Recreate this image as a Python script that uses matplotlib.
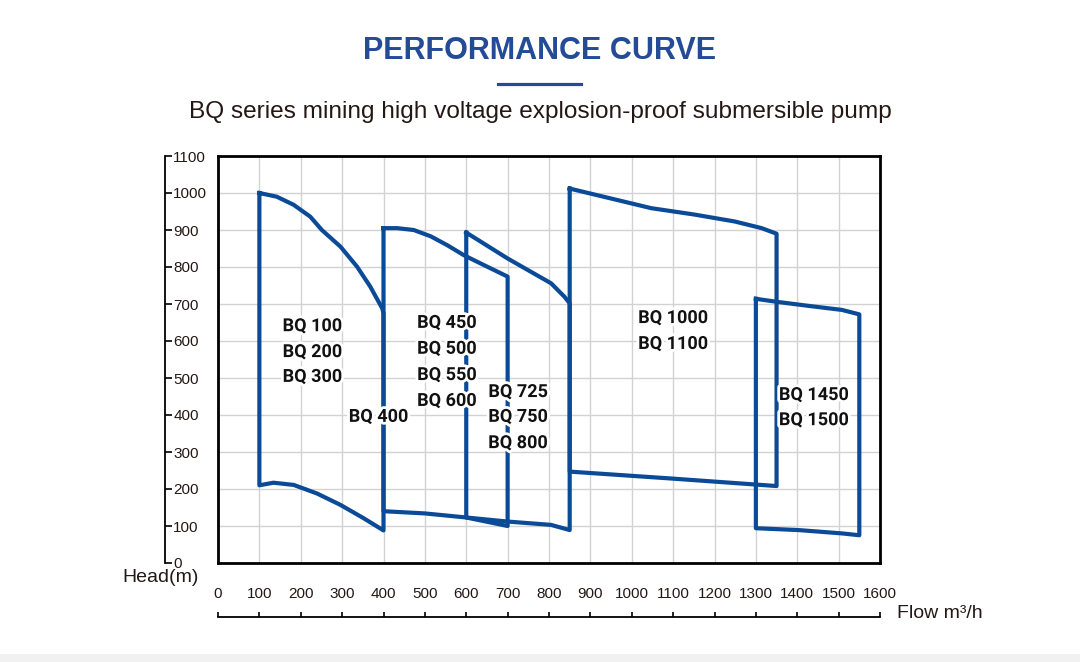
import matplotlib
matplotlib.use('Agg')
import matplotlib.pyplot as plt
import matplotlib.patheffects as pe
from matplotlib.lines import Line2D
from matplotlib.patches import Rectangle

# curvas: (caudal m3/h, altura m)
r1_top_q = [100, 142, 183, 223, 251, 296, 336, 368, 397, 400]
r1_top_h = [1000, 990, 968, 936, 900, 855, 801, 747, 688, 675]
r1_bot_q = [100, 134, 183, 239, 296, 352, 400]
r1_bot_h = [210, 217, 211, 188, 157, 121, 88]

r2_top_q = [400, 433, 473, 514, 554, 594, 643, 700]
r2_top_h = [905, 905, 900, 883, 859, 832, 805, 774]
r2_bot_q = [400, 500, 600, 700]
r2_bot_h = [140, 134, 123, 100]

r3_top_q = [600, 700, 805, 837, 850]
r3_top_h = [893, 823, 756, 720, 702]
r3_bot_q = [600, 700, 805, 850]
r3_bot_h = [123, 112, 103, 89]

r4_top_q = [850, 1047, 1150, 1249, 1314, 1350]
r4_top_h = [1012, 959, 942, 923, 905, 890]
r4_bot_q = [850, 1100, 1350]
r4_bot_h = [247, 228, 208]

r5_top_q = [1300, 1350, 1427, 1508, 1550]
r5_top_h = [714, 706, 695, 684, 672]
r5_bot_q = [1300, 1403, 1508, 1550]
r5_bot_h = [94, 89, 80, 75]

etiquetas = ['BQ 100', 'BQ 200', 'BQ 300', 'BQ 400',
             'BQ 450', 'BQ 500', 'BQ 550', 'BQ 600',
             'BQ 725', 'BQ 750', 'BQ 800',
             'BQ 1000', 'BQ 1100', 'BQ 1450', 'BQ 1500']
etiq_q = [228, 228, 228, 388, 553, 553, 553, 553, 725, 725, 725, 1100, 1100, 1440, 1440]
etiq_h = [640, 570, 503, 395, 649, 579, 508, 438, 462, 395, 324, 662, 592, 454, 386]

x_ticks = list(range(0, 1700, 100))
y_ticks = list(range(0, 1200, 100))

azul = '#0b4a97'
azul_titulo = '#234b96'
texto = '#231815'

W, H = 1080, 662
fig = plt.figure(figsize=(W / 100, H / 100), dpi=100)
fig.patch.set_facecolor('white')


def fx(px):
    return px / W


def fy(py):
    return 1 - py / H


# ejes principales (recuadro con rejilla)
ax = fig.add_axes([fx(218), fy(563), fx(880) - fx(218), fy(156) - fy(563)])
ax.set_xlim(0, 1600)
ax.set_ylim(0, 1100)
ax.set_xticks(x_ticks)
ax.set_yticks(y_ticks)
ax.tick_params(length=0, labelbottom=False, labelleft=False)
ax.grid(True, color='#d2d2d2', linewidth=1.0)
ax.set_axisbelow(True)
for s in ax.spines.values():
    s.set_linewidth(2.0)
    s.set_color('black')
    s.set_zorder(5)

regiones = [
    (r1_top_q, r1_top_h, r1_bot_q, r1_bot_h),
    (r2_top_q, r2_top_h, r2_bot_q, r2_bot_h),
    (r3_top_q, r3_top_h, r3_bot_q, r3_bot_h),
    (r4_top_q, r4_top_h, r4_bot_q, r4_bot_h),
    (r5_top_q, r5_top_h, r5_bot_q, r5_bot_h),
]
for tq, th, bq, bh in regiones:
    q = tq + bq[::-1] + [tq[0]]
    h = th + bh[::-1] + [th[0]]
    ax.plot(q, h, color=azul, linewidth=3, solid_joinstyle='round', zorder=3)

for t, q, h in zip(etiquetas, etiq_q, etiq_h):
    ax.text(q, h, t, ha='center', va='center', fontsize=13, fontweight='bold',
            family=['Roboto', 'DejaVu Sans'], color='#111111', zorder=4,
            path_effects=[pe.withStroke(linewidth=4, foreground='white')])

# eje Y separado a la izquierda
ay = fig.add_axes([fx(165), fy(563), fx(169) - fx(165), fy(156) - fy(563)])
ay.set_ylim(0, 1100)
ay.set_yticks(y_ticks)
ay.set_xticks([])
for k in ['top', 'right', 'bottom']:
    ay.spines[k].set_visible(False)
ay.spines['left'].set_linewidth(1.3)
ay.patch.set_alpha(0)
ay.tick_params(axis='y', direction='in', length=5, width=1.2, left=True, right=False,
               labelleft=False, labelright=True, pad=3, labelsize=11, labelcolor=texto)
for lab in ay.get_yticklabels():
    lab.set_family('Liberation Sans')

# eje X separado abajo
axx = fig.add_axes([fx(218), fy(617), fx(880) - fx(218), fy(604) - fy(617)])
axx.set_xlim(0, 1600)
axx.set_xticks(x_ticks)
axx.set_yticks([])
for k in ['top', 'right', 'left']:
    axx.spines[k].set_visible(False)
axx.spines['bottom'].set_linewidth(1.3)
axx.patch.set_alpha(0)
axx.tick_params(axis='x', direction='in', length=3.6, width=1.2, bottom=True, top=False,
                labelbottom=False, labeltop=True, pad=2, labelsize=11, labelcolor=texto)
for lab in axx.get_xticklabels():
    lab.set_family('Liberation Sans')

fig.text(fx(122), fy(578), 'Head(m)', ha='left', va='center', fontsize=14,
         family='Liberation Sans', color=texto)
fig.text(fx(897), fy(613), 'Flow m³/h', ha='left', va='center', fontsize=14,
         family='Liberation Sans', color=texto)

fig.text(0.5, fy(51), 'PERFORMANCE CURVE', ha='center', va='center', fontsize=22,
         fontweight='bold', family='Liberation Sans', color=azul_titulo)
fig.add_artist(Line2D([fx(498), fx(581)], [fy(84), fy(84)], color=azul_titulo, linewidth=2.3))
fig.text(0.5, fy(112), 'BQ series mining high voltage explosion-proof submersible pump',
         ha='center', va='center', fontsize=17.6, family='Liberation Sans', color=texto)

fig.add_artist(Rectangle((0, 0), 1, fy(654), transform=fig.transFigure,
                         facecolor='#f1f1f1', edgecolor='none', zorder=0))

fig.savefig('out.png', dpi=100)
